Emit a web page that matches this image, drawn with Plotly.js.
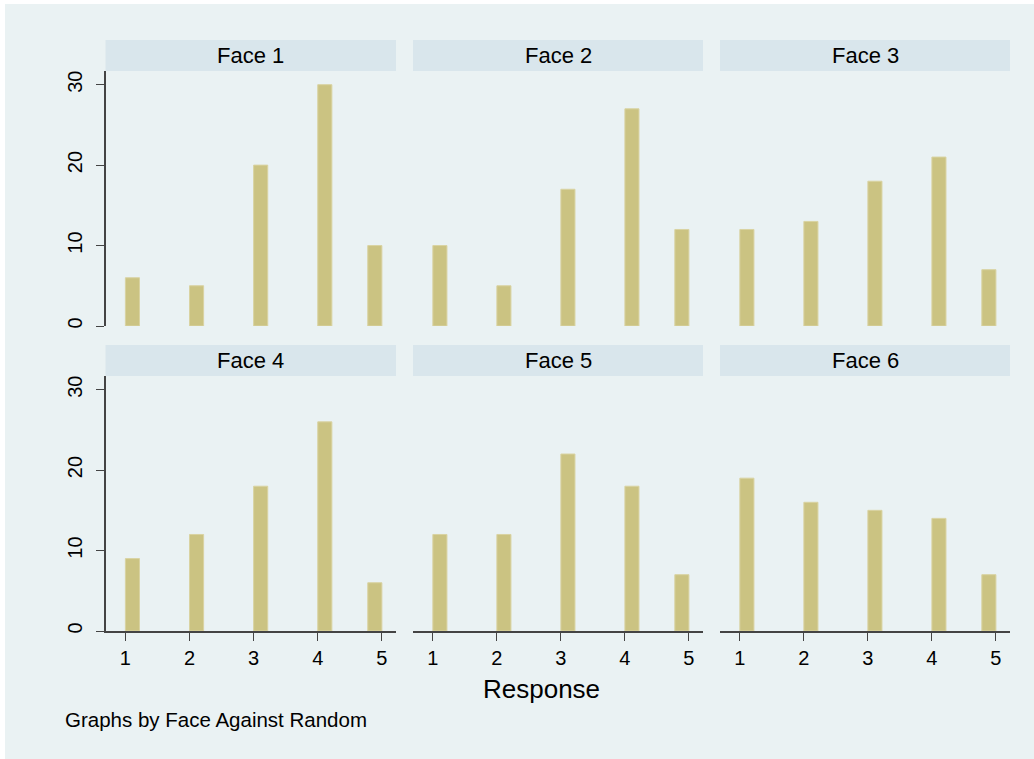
<!DOCTYPE html>
<html>
<head>
<meta charset="utf-8">
<script src="https://cdn.plot.ly/plotly-3.0.1.min.js"></script>
<style>html,body{margin:0;padding:0;background:#fff;}#chart{width:1034px;height:759px;}</style>
</head>
<body>
<div id="chart"></div>
<script>
var responses = [1, 2, 3, 4, 5];
var faceNames = ["Face 1", "Face 2", "Face 3", "Face 4", "Face 5", "Face 6"];
var face1 = [6, 5, 20, 30, 10];
var face2 = [10, 5, 17, 27, 12];
var face3 = [12, 13, 18, 21, 7];
var face4 = [9, 12, 18, 26, 6];
var face5 = [12, 12, 22, 18, 7];
var face6 = [19, 16, 15, 14, 7];
var yTicks = [0, 10, 20, 30];
var xTitle = "Response";
var note = "Graphs by Face Against Random";

var series = [face1, face2, face3, face4, face5, face6];
var W = 1034, H = 759;
var bg = "#EAF2F3", strip = "#D9E6EC", barFill = "#CBC382", barLine = "#D9D3A2";
var colsPx = [[105.5, 396], [413, 703], [720, 1010]];
var rowsPx = [[71, 326], [376, 631]];
var stripH = 31;
var bw = 0.22;
var font = "Liberation Sans, Arial, sans-serif";

var data = [];
var layout = {
  width: W, height: H,
  margin: {l: 0, r: 0, t: 0, b: 0},
  paper_bgcolor: "#ffffff",
  plot_bgcolor: "#ffffff",
  showlegend: false,
  bargap: 0,
  font: {family: font, color: "#000"},
  shapes: [{type: "rect", xref: "paper", yref: "paper", x0: 5 / W, x1: 1, y0: 0, y1: 1 - 4 / H,
            fillcolor: bg, line: {width: 0}, layer: "below"}],
  annotations: []
};

for (var i = 0; i < 6; i++) {
  var r = Math.floor(i / 3), c = i % 3;
  var n = i + 1;
  var xa = "xaxis" + (n === 1 ? "" : n), ya = "yaxis" + (n === 1 ? "" : n);
  var xr = "x" + (n === 1 ? "" : n), yr = "y" + (n === 1 ? "" : n);
  var offs = responses.map(function (v, k) { return k === responses.length - 1 ? -bw : 0; });
  data.push({
    type: "bar", x: responses, y: series[i], xaxis: xr, yaxis: yr,
    width: bw, offset: offs,
    marker: {color: barFill, line: {color: barLine, width: 1}},
    hoverinfo: "x+y"
  });
  var dx = [colsPx[c][0] / W, colsPx[c][1] / W];
  var dy = [1 - rowsPx[r][1] / H, 1 - rowsPx[r][0] / H];
  layout[xa] = {
    domain: dx, anchor: yr, range: [0.69, 5.22], tickvals: responses, ticktext: responses.map(String),
    showticklabels: r === 1, ticks: r === 1 ? "outside" : "", ticklen: 8, tickcolor: "#444",
    showline: r === 1, linecolor: "#444", linewidth: 1.5,
    showgrid: false, zeroline: false, fixedrange: true,
    tickfont: {size: 20, family: font, color: "#000"}
  };
  layout[ya] = {
    domain: dy, anchor: xr, range: [0, 31.7], tickvals: yTicks, ticktext: yTicks.map(String),
    showticklabels: c === 0, ticks: c === 0 ? "outside" : "", ticklen: 8, tickcolor: "#444",
    showline: c === 0, linecolor: "#444", linewidth: 1.5,
    showgrid: true, gridcolor: bg, gridwidth: 2, zeroline: false, fixedrange: true,
    tickangle: -90, ticklabelstandoff: 6,
    tickfont: {size: 20, family: font, color: "#000"}
  };
  layout.shapes.push({type: "rect", xref: "paper", yref: "paper",
    x0: colsPx[c][0] / W, x1: colsPx[c][1] / W,
    y0: 1 - rowsPx[r][0] / H, y1: 1 - (rowsPx[r][0] - stripH) / H,
    fillcolor: strip, line: {width: 0}, layer: "below"});
  layout.annotations.push({xref: "paper", yref: "paper",
    x: (colsPx[c][0] + colsPx[c][1]) / 2 / W, y: 1 - (rowsPx[r][0] - stripH / 2) / H,
    text: faceNames[i], showarrow: false, xanchor: "center", yanchor: "middle",
    font: {size: 22, family: font, color: "#000"}});
}
layout.annotations.push({xref: "paper", yref: "paper", x: 541 / W, y: 1 - 689 / H,
  text: xTitle, showarrow: false, xanchor: "center", yanchor: "middle",
  font: {size: 26, family: font, color: "#000"}});
layout.annotations.push({xref: "paper", yref: "paper", x: 63 / W, y: 1 - 719 / H,
  text: note, showarrow: false, xanchor: "left", yanchor: "middle",
  font: {size: 20.5, family: font, color: "#000"}});

Plotly.newPlot("chart", data, layout, {displayModeBar: false, staticPlot: true});
</script>
</body>
</html>
